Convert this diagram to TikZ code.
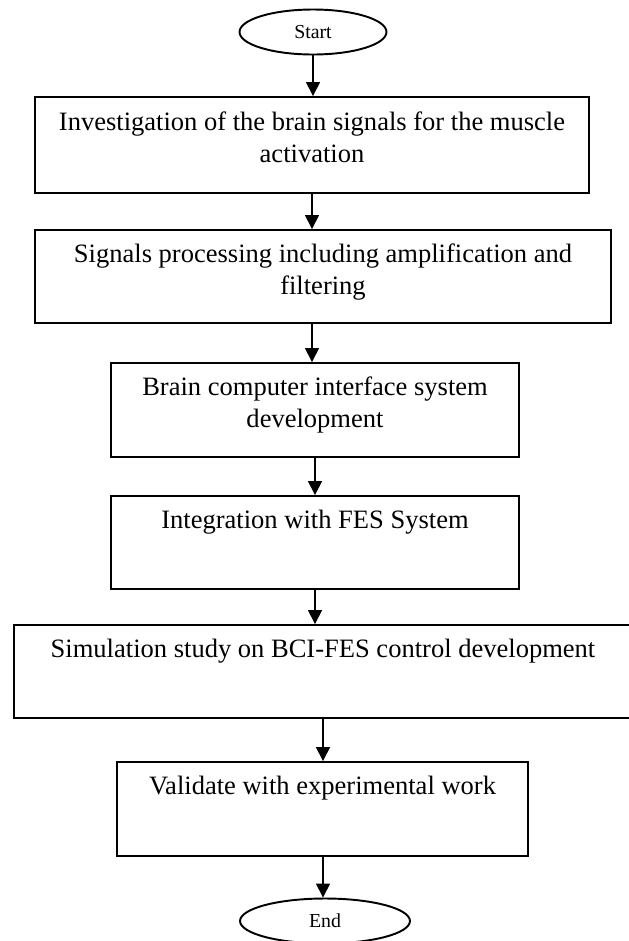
\documentclass[tikz,border=0pt]{standalone}
\usepackage{fontspec}
\setmainfont{Liberation Serif}
\usetikzlibrary{shapes.geometric,arrows.meta}
\begin{document}
\begin{tikzpicture}[x=0.02cm,y=-0.02cm]
\tikzstyle{startstop} = [ellipse, draw=black, line width=1.1pt, minimum width=2.94cm, minimum height=0.9cm, inner sep=0pt, font=\fontsize{11.3}{13}\selectfont]
\tikzstyle{process} = [rectangle, draw=black, line width=1.1pt, align=center, minimum height=1.88cm, font=\fontsize{15.1}{18.1}\selectfont, execute at end node={\rule[-0.3cm]{0pt}{0pt}}]
\tikzstyle{arrow} = [line width=0.85pt,-{Triangle[width=0.28cm,length=0.28cm]}]
\useasboundingbox (0,0) rectangle (629,941);
\node (start) [startstop] at (313,32) {Start};
\node (box1) [process, minimum width=11.08cm, minimum height=1.92cm] at (312,145) {Investigation of the brain signals for the muscle\\activation};
\node (box2) [process, minimum width=11.52cm, minimum height=1.86cm] at (323,276.5) {Signals processing including amplification and\\filtering};
\node (box3) [process, minimum width=8.16cm] at (315,410) {Brain computer interface system\\development};
\node (box4) [process, minimum width=8.16cm, minimum height=1.86cm] at (315,542.5) {Integration with FES System\\ \mbox{}};
\node (box5) [process, minimum width=12.36cm, minimum height=1.86cm] at (323,671.5) {Simulation study on BCI-FES control development\\ \mbox{}};
\node (box6) [process, minimum width=8.22cm] at (322.5,809) {Validate with experimental work\\ \mbox{}};
\node (end) [startstop, minimum width=3.4cm] at (325,921) {End};
\draw [arrow] (start.south) -- (start.south |- box1.north);
\draw [arrow] (box1.south) -- (box1.south |- box2.north);
\draw [arrow] (box1.south |- box2.south) -- (box1.south |- box3.north);
\draw [arrow] (box3.south) -- (box3.south |- box4.north);
\draw [arrow] (box4.south) -- (box4.south |- box5.north);
\draw [arrow] (box5.south) -- (box5.south |- box6.north);
\draw [arrow] (box5.south |- box6.south) -- (box5.south |- end.north);
\end{tikzpicture}
\end{document}
